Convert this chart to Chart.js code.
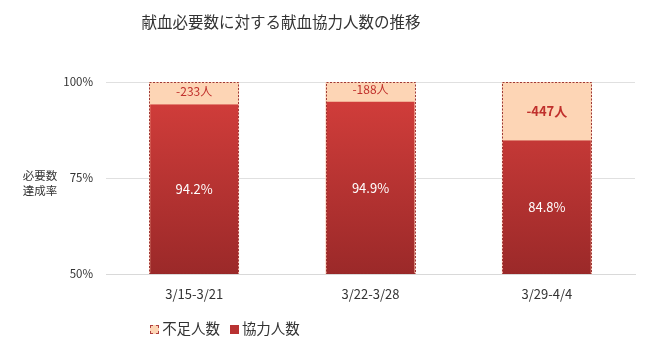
<!DOCTYPE html>
<html><head><meta charset="utf-8">
<script src="https://cdn.jsdelivr.net/npm/chart.js@4/dist/chart.umd.min.js"></script>
<style>
html,body{margin:0;padding:0;background:#fff;}
#wrap{position:relative;width:650px;height:351px;font-family:"Noto Sans CJK JP","Noto Sans",sans-serif;}
#title{position:absolute;left:0;width:562px;top:10px;text-align:center;font-size:15.5px;color:#333;line-height:22px;}
#ylab{position:absolute;left:18px;top:168px;font-size:11.5px;color:#333;line-height:15px;text-align:center;width:44px;}
#legend{position:absolute;left:0;width:450px;top:318px;text-align:center;font-size:14.5px;color:#333;line-height:20px;}
#legend span.b{display:inline-block;width:9px;height:9px;vertical-align:middle;margin-right:3px;position:relative;top:-1px;}
canvas{position:absolute;left:0;top:0;}
</style></head>
<body><div id="wrap">
<canvas id="c" width="650" height="351"></canvas>
<div id="title">献血必要数に対する献血協力人数の推移</div>
<div id="ylab">必要数<br>達成率</div>
<div id="legend"><span class="b" style="background:#fdd5b5;border:1px dashed #b04040;box-sizing:border-box"></span>不足人数&nbsp;&nbsp;&nbsp;<span class="b" style="background:#b83232"></span>協力人数</div>
</div>
<script>
const categories = ['3/15-3/21', '3/22-3/28', '3/29-4/4'];
const requiredPct = [100, 100, 100];
const achievedPct = [94.2, 94.9, 84.8];
const shortfallPeople = [-233, -188, -447];
const yTicks = [50, 75, 100];

const FONT = '"Noto Sans CJK JP","Noto Sans",sans-serif';

const labelPlugin = {
  id: 'labels',
  afterDatasetsDraw(chart) {
    const ctx = chart.ctx;
    const area = chart.chartArea;
    const req = chart.getDatasetMeta(0).data;
    const ach = chart.getDatasetMeta(1).data;
    ctx.save();
    req.forEach((bar) => {
      const p = bar.getProps(['x','y','base','width'], true);
      const bottom = Math.min(p.base, area.bottom);
      ctx.setLineDash([2, 1.5]);
      ctx.lineWidth = 1;
      ctx.strokeStyle = 'rgba(150,40,40,0.9)';
      ctx.strokeRect(Math.round(p.x - p.width/2) + 0.5, Math.round(p.y) + 0.5, Math.round(p.width) - 1, Math.round(bottom - p.y) - 1);
    });
    ctx.setLineDash([]);
    ctx.textAlign = 'center';
    ctx.textBaseline = 'middle';
    ach.forEach((bar, i) => {
      const p = bar.getProps(['x','y','base'], true);
      const bottom = Math.min(p.base, area.bottom);
      const top = req[i].getProps(['y'], true).y;
      ctx.fillStyle = '#fff';
      ctx.font = '13px ' + FONT;
      ctx.fillText(achievedPct[i].toFixed(1) + '%', p.x, (p.y + bottom) / 2);
      const big = i === 2;
      ctx.fillStyle = '#c0302c';
      ctx.font = (big ? 'bold 13px ' : '12px ') + FONT;
      ctx.fillText(shortfallPeople[i] + '人', p.x, (top + p.y) / 2 - (big ? 0 : 2));
    });
    ctx.restore();
  }
};

function redGradient(context) {
  const chart = context.chart;
  const a = chart.chartArea;
  if (!a) return '#b83232';
  const g = chart.ctx.createLinearGradient(0, a.top, 0, a.bottom);
  g.addColorStop(0, '#d63f3c');
  g.addColorStop(1, '#9b2929');
  return g;
}

new Chart(document.getElementById('c'), {
  type: 'bar',
  data: {
    labels: categories,
    datasets: [
      { label: '不足人数', data: requiredPct, backgroundColor: '#fdd5b5', borderWidth: 0, barPercentage: 0.51, categoryPercentage: 1, order: 2 },
      { label: '協力人数', data: achievedPct, backgroundColor: redGradient, borderColor: 'rgba(255,190,190,0.7)', borderWidth: {left:1,right:1,top:0,bottom:0}, barPercentage: 0.51, categoryPercentage: 1, order: 1 }
    ]
  },
  options: {
    responsive: false,
    animation: false,
    layout: { padding: { top: 82, right: 15, bottom: 0, left: 0 } },
    plugins: { legend: { display: false }, title: { display: false }, tooltip: { enabled: false } },
    scales: {
      x: {
        stacked: true,
        grid: { display: false, drawTicks: false },
        border: { display: true, color: '#d9d9d9' },
        ticks: { color: '#333', font: { family: FONT, size: 13 }, padding: 12 },
        afterFit(s) { s.height = 77; }
      },
      y: {
        stacked: false,
        min: 50, max: 100,
        afterBuildTicks(s) { s.ticks = yTicks.map(v => ({ value: v })); },
        grid: { color: '#e0e0e0', drawTicks: false },
        border: { display: false },
        ticks: { color: '#333', font: { family: FONT, size: 11.5 }, padding: 13, callback: v => v + '%' },
        afterFit(s) { s.width = 106; }
      }
    }
  },
  plugins: [labelPlugin]
});
</script>
</body></html>
